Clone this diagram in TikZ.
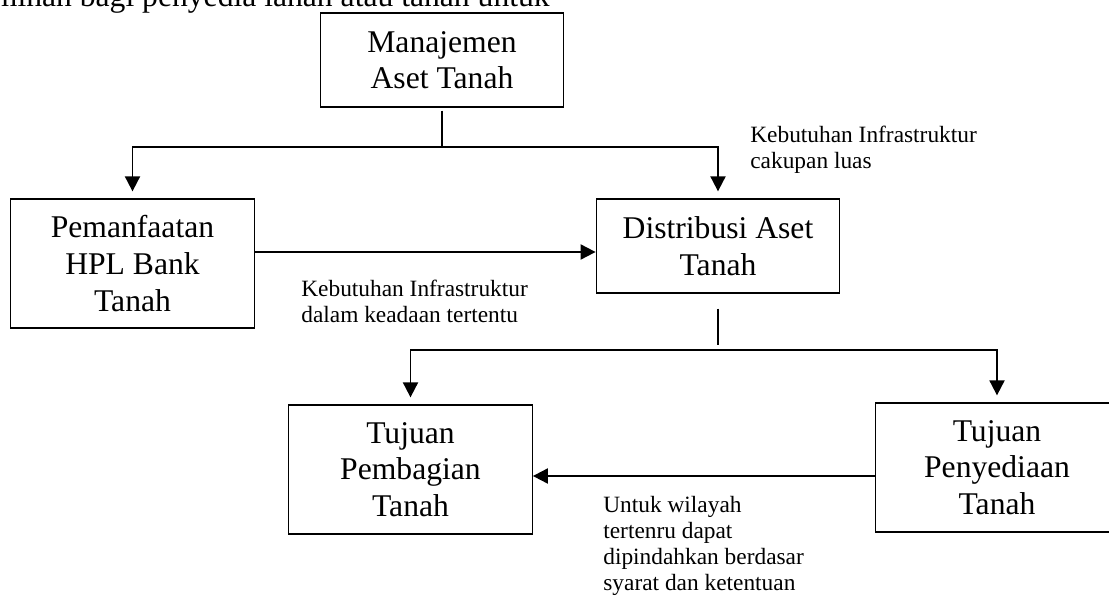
\documentclass[tikz,border=0pt]{standalone}
\usepackage{fontspec}
\setmainfont{Liberation Serif}
\usetikzlibrary{arrows.meta}
\tikzset{
  boxnode/.style = {align=center, inner sep=4pt, draw=black, line width=0.75pt,
    minimum width=4.87cm, font=\fontsize{18}{20.8}\selectfont},
  box_s/.style = {boxnode, minimum height=1.88cm},
  box_t/.style = {boxnode, minimum height=2.58cm},
  note_n/.style = {align=left, inner sep=0pt, anchor=north west,
    font=\fontsize{13.3}{14.8}\selectfont},
  link/.style = {line width=1.1pt},
}

\begin{document}
\begin{tikzpicture}[x=0.02cm, y=-0.02cm, >={Triangle[length=0.3cm,width=0.3cm]}]
  \useasboundingbox (0,0) rectangle (1109,598);
  \clip (0,0) rectangle (1109,598);
  \node [anchor=base east, inner sep=0pt, font=\fontsize{18}{20.8}\selectfont] (cutline)
    at (550,7) {jaminan bagi penyedia lahan atau tanah untuk};
  \node [box_s] (manaj) at (442,60) {Manajemen\\Aset Tanah};
  \node [box_t] (pemanf) at (132.5,263.5) {Pemanfaatan\\HPL Bank\\Tanah};
  \node [box_s] (distr) at (718,246) {Distribusi Aset\\Tanah};
  \node [box_t] (pemb) at (410.5,469.5) {Tujuan\\Pembagian\\Tanah};
  \node [box_t] (penyed) at (997,467.5) {Tujuan\\Penyediaan\\Tanah};
  \node [note_n] (ket_a) at (750,126) {Kebutuhan Infrastruktur\\cakupan luas};
  \begin{scope}
    \clip (260,260) rectangle (590,324);
    \node [note_n] (ket_b) at (301,280) {Kebutuhan Infrastruktur\\dalam keadaan tertentu};
  \end{scope}
  \node [note_n] (ket_c) at (603,496) {Untuk wilayah\\tertenru dapat\\dipindahkan berdasar\\syarat dan ketentuan};
  \coordinate (top_j) at (manaj.south |- 0,147);
  \coordinate (low_j) at (distr.south |- 0,350);
  \draw [link] ([yshift=-0.06cm]manaj.south) -- (top_j);
  \draw [link, ->, shorten >=0.14cm] (top_j) -| (pemanf.north);
  \draw [link, ->, shorten >=0.14cm] (top_j) -| (distr.north);
  \draw [link, ->] (pemanf.east |- 0,252) -- (distr.west |- 0,252);
  \draw [link] ([yshift=-0.3cm]distr.south) -- ([yshift=0.1cm]low_j);
  \draw [link, ->, shorten >=0.14cm] (low_j) -| (pemb.north);
  \draw [link, ->, shorten >=0.14cm] (low_j) -| (penyed.north);
  \draw [link, ->] (penyed.west |- 0,476) -- (pemb.east |- 0,476);
\end{tikzpicture}
\end{document}
